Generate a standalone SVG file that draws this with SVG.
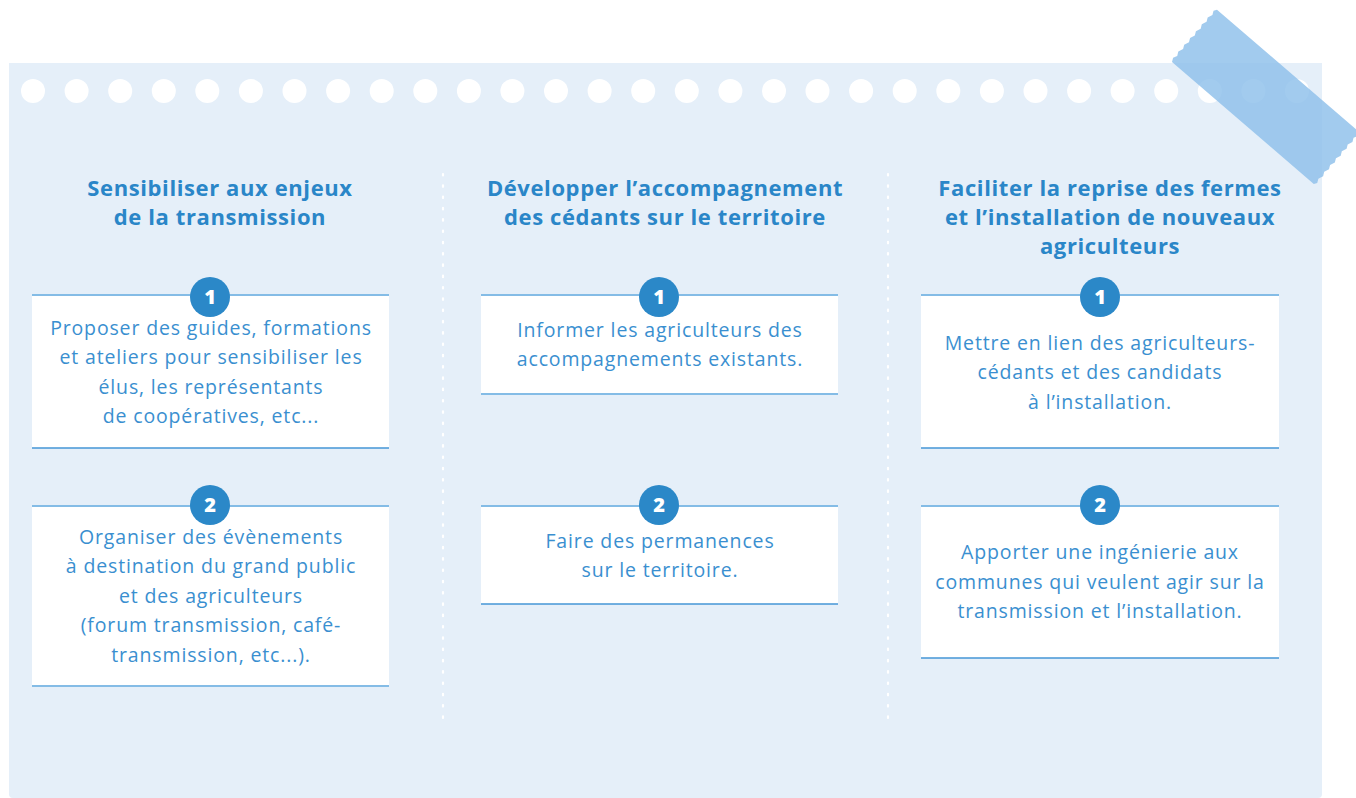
<svg xmlns="http://www.w3.org/2000/svg" width="1356" height="798" viewBox="0 0 1356 798">
<defs>
<style>
.title{font-family:"Open Sans","Noto Sans",sans-serif;font-weight:700;font-size:22px;letter-spacing:0.6px;fill:#2a86c8;text-anchor:middle}
.body{font-family:"Open Sans","Noto Sans",sans-serif;font-size:19.5px;letter-spacing:0.85px;fill:#3a8fd0;text-anchor:middle}
.num{font-family:"Open Sans","Noto Sans",sans-serif;font-weight:800;font-size:20px;fill:#ffffff;text-anchor:middle}
.card{fill:#ffffff}
.ltop{stroke:#84bce6;stroke-width:2}
.lbot{stroke:#4596d6;stroke-width:1.6}
.badge{fill:#2b88c8}
.sep{stroke:#ffffff;stroke-width:2.2;stroke-linecap:round;stroke-dasharray:1.5 9.8}
</style>
</defs>
<rect x="0" y="0" width="1356" height="798" fill="#ffffff"/>
<path d="M9,63 H1322 V794 Q1322,798 1318,798 H13 Q9,798 9,794 Z" fill="#e5eff9"/>
<g id="holes" fill="#ffffff">
<circle cx="33" cy="91" r="12"/><circle cx="76.6" cy="91" r="12"/><circle cx="120.2" cy="91" r="12"/><circle cx="163.8" cy="91" r="12"/><circle cx="207.3" cy="91" r="12"/><circle cx="250.9" cy="91" r="12"/><circle cx="294.5" cy="91" r="12"/><circle cx="338.1" cy="91" r="12"/><circle cx="381.7" cy="91" r="12"/><circle cx="425.3" cy="91" r="12"/><circle cx="468.9" cy="91" r="12"/><circle cx="512.4" cy="91" r="12"/><circle cx="556" cy="91" r="12"/><circle cx="599.6" cy="91" r="12"/><circle cx="643.2" cy="91" r="12"/><circle cx="686.8" cy="91" r="12"/><circle cx="730.4" cy="91" r="12"/><circle cx="774" cy="91" r="12"/><circle cx="817.5" cy="91" r="12"/><circle cx="861.1" cy="91" r="12"/><circle cx="904.7" cy="91" r="12"/><circle cx="948.3" cy="91" r="12"/><circle cx="991.9" cy="91" r="12"/><circle cx="1035.5" cy="91" r="12"/><circle cx="1079.1" cy="91" r="12"/><circle cx="1122.6" cy="91" r="12"/><circle cx="1166.2" cy="91" r="12"/><circle cx="1209.8" cy="91" r="12"/><circle cx="1253.4" cy="91" r="12"/><circle cx="1297" cy="91" r="12"/>
</g>
<g id="separators">
<line class="sep" x1="443" y1="174" x2="443" y2="718"/>
<line class="sep" x1="888" y1="174" x2="888" y2="718"/>
</g>
<g id="col1">
<g id="title1">
<text class="title" x="220" y="196">Sensibiliser aux enjeux</text>
<text class="title" x="220" y="225">de la transmission</text>
</g>
<g id="c1n1">
<rect class="card" x="32" y="295" width="357" height="153"/>
<line class="ltop" x1="32" y1="295" x2="389" y2="295"/>
<line class="lbot" x1="32" y1="448" x2="389" y2="448"/>
<circle class="badge" cx="210" cy="297" r="20"/>
<text class="num" x="210" y="304">1</text>
<text class="body" x="211" y="335">Proposer des guides, formations</text>
<text class="body" x="211" y="364">et ateliers pour sensibiliser les</text>
<text class="body" x="211" y="394">élus, les représentants</text>
<text class="body" x="211" y="423">de coopératives, etc...</text>
</g>
<g id="c1n2">
<rect class="card" x="32" y="506" width="357" height="180"/>
<line class="ltop" x1="32" y1="506" x2="389" y2="506"/>
<line class="ltop" x1="32" y1="686" x2="389" y2="686"/>
<circle class="badge" cx="210" cy="505" r="20"/>
<text class="num" x="210" y="512">2</text>
<text class="body" x="211" y="544">Organiser des évènements</text>
<text class="body" x="211" y="573">à destination du grand public</text>
<text class="body" x="211" y="603">et des agriculteurs</text>
<text class="body" x="211" y="632">(forum transmission, café-</text>
<text class="body" x="211" y="662">transmission, etc...).</text>
</g>
</g>
<g id="col2">
<g id="title2">
<text class="title" x="665" y="196">Développer l’accompagnement</text>
<text class="title" x="665" y="225">des cédants sur le territoire</text>
</g>
<g id="c2n1">
<rect class="card" x="481" y="295" width="357" height="99"/>
<line class="ltop" x1="481" y1="295" x2="838" y2="295"/>
<line class="ltop" x1="481" y1="394" x2="838" y2="394"/>
<circle class="badge" cx="659" cy="297" r="20"/>
<text class="num" x="659" y="304">1</text>
<text class="body" x="660" y="337">Informer les agriculteurs des</text>
<text class="body" x="660" y="366">accompagnements existants.</text>
</g>
<g id="c2n2">
<rect class="card" x="481" y="506" width="357" height="98"/>
<line class="ltop" x1="481" y1="506" x2="838" y2="506"/>
<line class="lbot" x1="481" y1="604" x2="838" y2="604"/>
<circle class="badge" cx="659" cy="505" r="20"/>
<text class="num" x="659" y="512">2</text>
<text class="body" x="660" y="548">Faire des permanences</text>
<text class="body" x="660" y="577">sur le territoire.</text>
</g>
</g>
<g id="col3">
<g id="title3">
<text class="title" x="1110" y="196">Faciliter la reprise des fermes</text>
<text class="title" x="1110" y="225">et l’installation de nouveaux</text>
<text class="title" x="1110" y="254">agriculteurs</text>
</g>
<g id="c3n1">
<rect class="card" x="921" y="295" width="358" height="153"/>
<line class="ltop" x1="921" y1="295" x2="1279" y2="295"/>
<line class="lbot" x1="921" y1="448" x2="1279" y2="448"/>
<circle class="badge" cx="1100" cy="297" r="20"/>
<text class="num" x="1100" y="304">1</text>
<text class="body" x="1100" y="350">Mettre en lien des agriculteurs-</text>
<text class="body" x="1100" y="379">cédants et des candidats</text>
<text class="body" x="1100" y="409">à l’installation.</text>
</g>
<g id="c3n2">
<rect class="card" x="921" y="506" width="358" height="152"/>
<line class="ltop" x1="921" y1="506" x2="1279" y2="506"/>
<line class="lbot" x1="921" y1="658" x2="1279" y2="658"/>
<circle class="badge" cx="1100" cy="505" r="20"/>
<text class="num" x="1100" y="512">2</text>
<text class="body" x="1100" y="559">Apporter une ingénierie aux</text>
<text class="body" x="1100" y="589">communes qui veulent agir sur la</text>
<text class="body" x="1100" y="618">transmission et l’installation.</text>
</g>
</g>
<g id="tape" transform="translate(1172,62) rotate(40.7)">
<path d="M0,0 L-2,-4 L0,-8 L-2,-12 L0,-17 L-2,-21 L0,-26 L-2,-30 L0,-35 L-2,-39 L0,-44 L-2,-48 L0,-53 L-2,-57 L0,-62 L-2,-66 L0,-69 L187,-69 L189,-65 L187,-61 L189,-57 L187,-52 L189,-48 L187,-43 L189,-39 L187,-34 L189,-30 L187,-25 L189,-21 L187,-16 L189,-12 L187,-7 L189,-3 L187,0 Z" fill="#8ec0ea" fill-opacity="0.82"/>
</g>
</svg>
